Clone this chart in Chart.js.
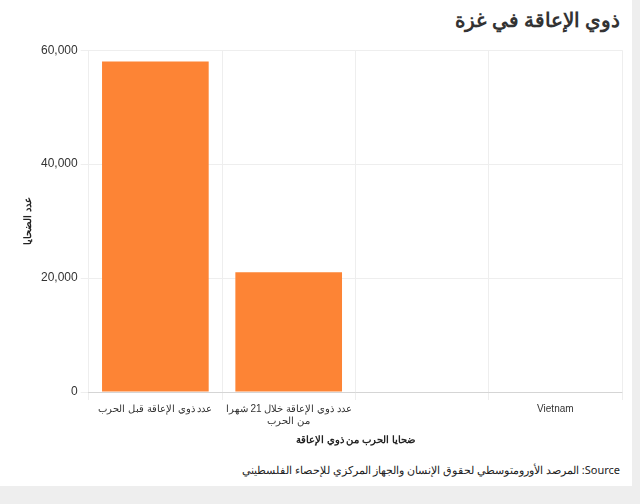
<!DOCTYPE html><html><head><meta charset="utf-8">
<script src="https://cdn.jsdelivr.net/npm/chart.js@4"></script>
<style>body{margin:0;background:#eeeeee;font-family:"Noto Sans",sans-serif}
#w{position:absolute;left:0;top:0;width:632px;height:486px;background:#fff}
#t{position:absolute;right:12px;top:6px;font-size:20px;font-weight:bold;color:#333;direction:rtl}
#c{position:absolute;left:0;top:40px;width:632px;height:410px}
#s{position:absolute;right:12px;top:462px;font-size:11px;color:#222;direction:rtl}</style></head><body>
<div id="w"><div id="t">ذوي الإعاقة في غزة</div><div id="c"><canvas id="cv"></canvas></div>
<div id="s">Source: المرصد الأورومتوسطي لحقوق الإنسان والجهاز المركزي للإحصاء الفلسطيني</div></div>
<script>
const categories=[["عدد ذوي الإعاقة قبل الحرب"],["عدد ذوي الإعاقة خلال 21 شهرا","من الحرب"],"","Vietnam"];
const values=[58000,21000,null,null];
new Chart(document.getElementById('cv'),{type:'bar',data:{labels:categories,datasets:[{data:values,backgroundColor:'#fd8435',barPercentage:0.8,categoryPercentage:1}]},
options:{responsive:true,maintainAspectRatio:false,animation:false,layout:{padding:{right:10,top:10,left:18}},plugins:{legend:{display:false},tooltip:{enabled:false}},
scales:{x:{grid:{offset:true,color:'#eee'},ticks:{maxRotation:0,color:'#333',font:{size:10}},title:{display:true,text:'ضحايا الحرب من ذوي الإعاقة',color:'#222',font:{size:10,weight:'bold'}}},
y:{min:0,max:60000,ticks:{stepSize:20000,color:'#333',font:{size:12}},grid:{color:'#eee'},border:{display:false},title:{display:true,text:'عدد الضحايا',color:'#222',font:{size:10,weight:'bold'}}}}}});
</script></body></html>
